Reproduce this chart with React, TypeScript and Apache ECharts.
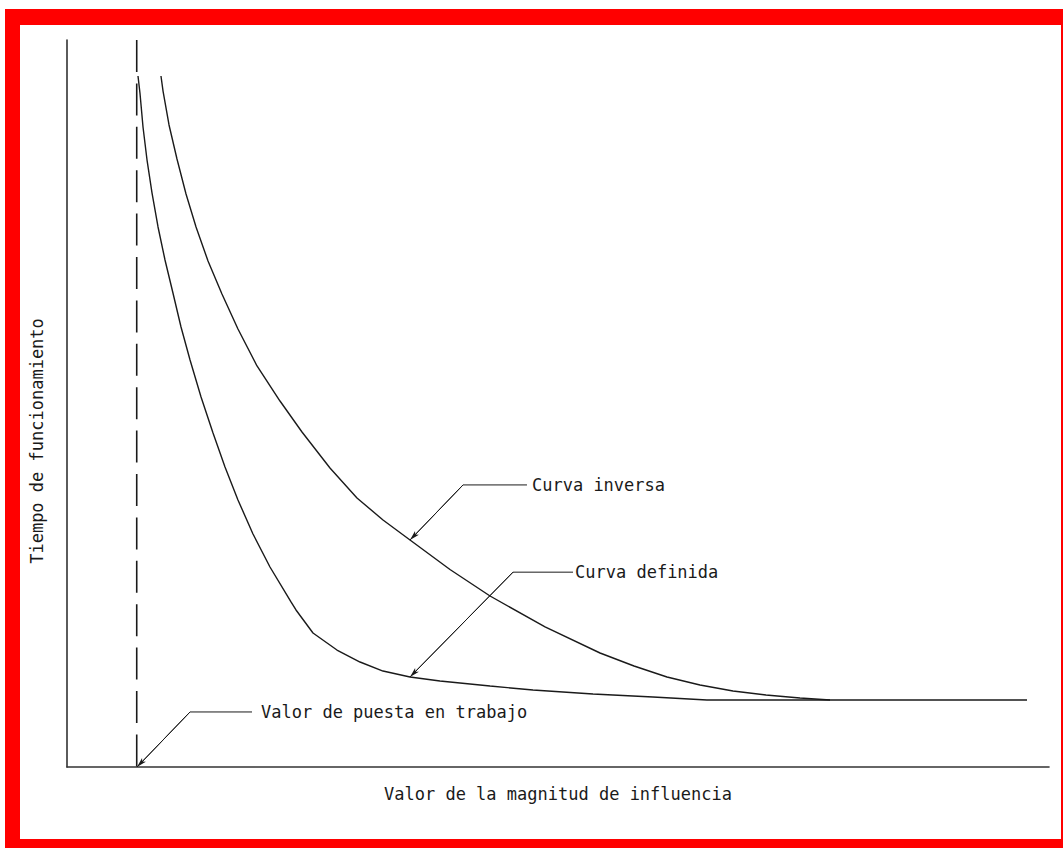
import React, { useEffect, useRef } from "react";
import * as echarts from "echarts";

// ---------- data ----------
const xAxisTitle = "Valor de la magnitud de influencia";
const yAxisTitle = "Tiempo de funcionamiento";

const axisMin = 0;
const axisMax = 100;

// pick-up value (dashed vertical line)
const pickupValue = 7.1;

// inverse-time curve [magnitude, time]
const inverseCurve: [number, number][] = [
  [9.57, 95.05], [9.78, 92.98], [10.39, 88.31], [11.2, 83.63], [12.12, 78.82],
  [13.14, 74.28], [14.36, 69.6], [15.78, 65.06], [17.41, 60.25], [19.35, 55.16],
  [21.69, 50.34], [23.93, 46.08], [26.78, 41.13], [29.53, 37.0], [32.18, 33.98],
  [34.93, 31.22], [39.0, 27.17], [43.08, 23.52], [48.68, 19.26], [54.28, 15.68],
  [57.74, 13.89], [61.1, 12.38], [64.46, 11.28], [67.82, 10.45], [71.18, 9.9],
  [74.64, 9.49], [77.7, 9.22],
];

// definite-time curve [magnitude, time]
const definiteCurve: [number, number][] = [
  [7.23, 95.05], [7.43, 92.71], [7.74, 88.03], [8.15, 83.49], [8.66, 78.95],
  [9.27, 74.28], [9.98, 69.74], [10.79, 65.2], [11.61, 60.52], [12.53, 55.98],
  [13.65, 50.89], [14.87, 45.94], [16.09, 41.27], [17.41, 36.73], [18.94, 32.05],
  [20.67, 27.51], [22.81, 22.7], [23.32, 21.6], [25.05, 18.43], [27.49, 16.09],
  [29.84, 14.44], [32.18, 13.2], [34.93, 12.38], [37.98, 11.83], [43.08, 11.14],
  [47.45, 10.59], [53.56, 10.04], [59.67, 9.63], [65.17, 9.22], [97.76, 9.22],
];

// annotations: label, arrow tip, leader elbow, leader end
const annotationLabels = ["Curva inversa", "Curva definida", "Valor de puesta en trabajo"];
const annotationTips: [number, number][] = [[34.93, 31.22], [34.93, 12.38], [7.13, 0]];
const annotationElbows: [number, number][] = [[40.33, 38.8], [45.42, 26.8], [12.53, 7.57]];
const annotationEnds: [number, number][] = [[46.84, 38.8], [51.53, 26.8], [18.84, 7.57]];

// ---------- styles ----------
const INK = "#1a1a1a";
const FONT = "'DejaVu Sans Mono', monospace";
const FONT_SIZE = 17;
const LABEL_GAPS = [5, 2, 9];

export default function App() {
  const ref = useRef<HTMLDivElement>(null);

  useEffect(() => {
    if (!ref.current) return;
    const chart = echarts.init(ref.current, undefined, { renderer: "svg" });

    const annotationSeries = annotationLabels.map((label, i) => ({
      type: "line",
      name: label,
      data: [annotationTips[i], annotationElbows[i], annotationEnds[i]],
      showSymbol: false,
      symbol: "none",
      silent: true,
      lineStyle: { color: INK, width: 1 },
      endLabel: {
        show: true,
        formatter: label,
        distance: LABEL_GAPS[i],
        color: INK,
        fontFamily: FONT,
        fontSize: FONT_SIZE,
      },
      markLine: {
        silent: true,
        animation: false,
        label: { show: false },
        lineStyle: { color: INK, width: 1, type: "solid" },
        data: [
          [
            { coord: annotationTips[i], symbol: "arrow", symbolSize: [4, 10] },
            { coord: annotationElbows[i], symbol: "none" },
          ],
        ],
      },
    }));

    chart.setOption({
      animation: false,
      backgroundColor: "#ffffff",
      grid: { left: 67, top: 40, right: 14, bottom: 81, containLabel: false },
      xAxis: {
        type: "value",
        min: axisMin,
        max: axisMax,
        name: xAxisTitle,
        nameLocation: "middle",
        nameGap: 18,
        nameTextStyle: { color: INK, fontFamily: FONT, fontSize: FONT_SIZE, verticalAlign: "top" },
        axisLine: { show: true, onZero: false, lineStyle: { color: "#333", width: 1.6 } },
        axisTick: { show: false },
        axisLabel: { show: false },
        splitLine: { show: false },
      },
      yAxis: {
        type: "value",
        min: axisMin,
        max: axisMax,
        axisLine: { show: true, onZero: false, lineStyle: { color: "#333", width: 1.6 } },
        axisTick: { show: false },
        axisLabel: { show: false },
        splitLine: { show: false },
      },
      graphic: [
        { type: "rect", shape: { x: 5, y: 9, width: 1060, height: 16 }, style: { fill: "#ff0000" }, silent: true },
        { type: "rect", shape: { x: 5, y: 9, width: 15, height: 845 }, style: { fill: "#ff0000" }, silent: true },
        { type: "rect", shape: { x: 1061, y: 9, width: 10, height: 845 }, style: { fill: "#ff0000" }, silent: true },
        { type: "rect", shape: { x: 5, y: 839, width: 1065, height: 15 }, style: { fill: "#ff0000" }, silent: true },
        {
          type: "text",
          x: 37,
          y: 441,
          rotation: Math.PI / 2,
          silent: true,
          style: {
            text: yAxisTitle,
            fill: INK,
            font: `${FONT_SIZE}px ${FONT}`,
            align: "center",
            verticalAlign: "middle",
          },
        },
      ],
      series: [
        {
          type: "line",
          name: "Valor de puesta en trabajo",
          data: [[pickupValue, axisMax], [pickupValue, axisMin]],
          showSymbol: false,
          symbol: "none",
          silent: true,
          lineStyle: { color: INK, width: 1.6, type: [32, 11.4] },
        },
        {
          type: "line",
          name: "Curva inversa",
          data: inverseCurve,
          smooth: false,
          showSymbol: false,
          symbol: "none",
          silent: true,
          lineStyle: { color: INK, width: 1.4 },
        },
        {
          type: "line",
          name: "Curva definida",
          data: definiteCurve,
          smooth: false,
          showSymbol: false,
          symbol: "none",
          silent: true,
          lineStyle: { color: INK, width: 1.4 },
        },
        ...annotationSeries,
      ],
    });

    return () => chart.dispose();
  }, []);

  return (
    <div
      ref={ref}
      style={{ position: "absolute", left: 0, top: 0, width: 1063, height: 848, background: "#fff" }}
    />
  );
}
